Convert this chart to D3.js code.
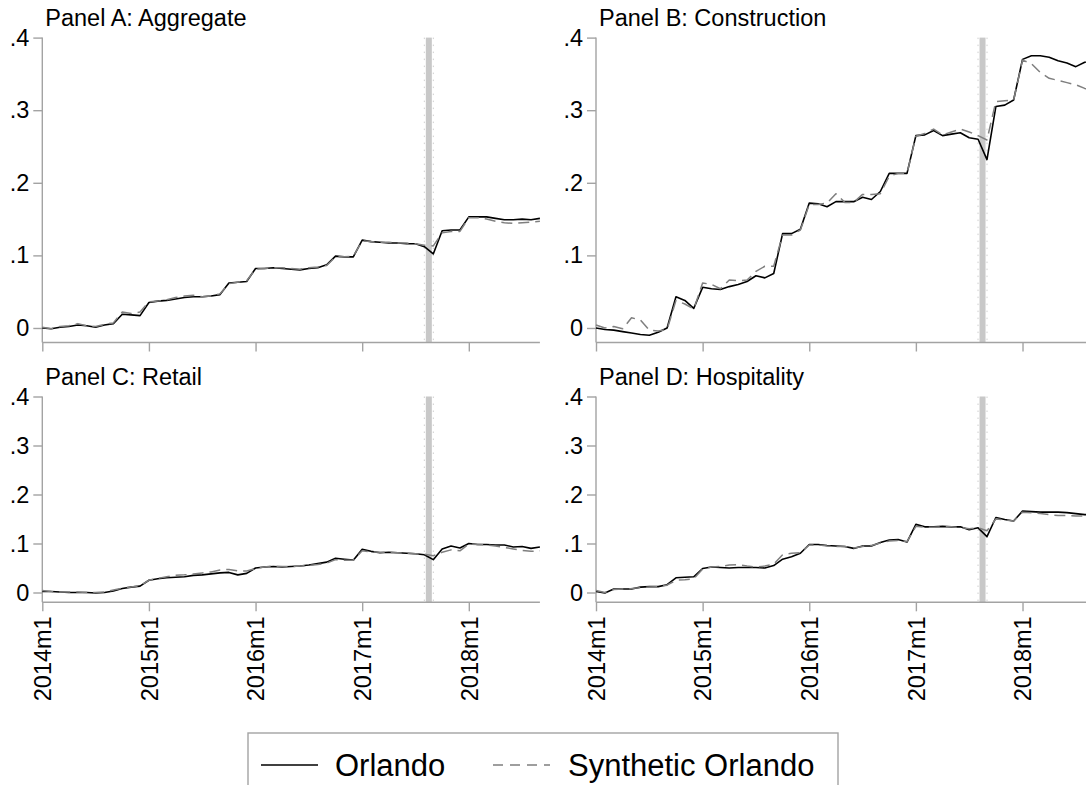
<!DOCTYPE html>
<html>
<head>
<meta charset="utf-8">
<script src="https://cdn.jsdelivr.net/npm/d3@7"></script>
<style>
  html, body { margin: 0; padding: 0; background: #ffffff; }
  svg { display: block; }
  text { font-family: "Liberation Sans", Arial, Helvetica, sans-serif; fill: #000; }
</style>
</head>
<body>
<svg id="chart" width="1086" height="785"></svg>
<script>
// Monthly series, 2014m1 .. 2018m9 (57 months), growth relative to 2014m1
const monthCount = 57;
const tickMonths = [0, 12, 24, 36, 48];
const tickLabels = ["2014m1", "2015m1", "2016m1", "2017m1", "2018m1"];
const yTicks = [0, 0.1, 0.2, 0.3, 0.4];
const yTickLabels = ["0", ".1", ".2", ".3", ".4"];
const eventMonth = 43.5; // Hurricane Irma, between 2017m8 and 2017m9

const panelTitles = ["Panel A: Aggregate", "Panel B: Construction", "Panel C: Retail", "Panel D: Hospitality"];
const seriesNames = ["Orlando", "Synthetic Orlando"];

const orlandoAggregate = [
  0.000, -0.001, 0.001, 0.002, 0.004, 0.003, 0.001, 0.004, 0.006, 0.019,
  0.018, 0.017, 0.035, 0.037, 0.038, 0.040, 0.042, 0.043, 0.043, 0.044,
  0.046, 0.062, 0.063, 0.064, 0.082, 0.082, 0.083, 0.082, 0.081, 0.080,
  0.082, 0.083, 0.087, 0.099, 0.098, 0.098, 0.121, 0.119, 0.118, 0.117,
  0.117, 0.116, 0.116, 0.112, 0.102, 0.134, 0.135, 0.135, 0.153, 0.153,
  0.153, 0.151, 0.149, 0.149, 0.150, 0.149, 0.151];
const synthAggregate = [
  0.001, -0.001, 0.002, 0.003, 0.006, 0.003, 0.002, 0.005, 0.007, 0.022,
  0.020, 0.022, 0.036, 0.037, 0.039, 0.042, 0.044, 0.045, 0.043, 0.044,
  0.047, 0.061, 0.063, 0.065, 0.081, 0.082, 0.083, 0.083, 0.082, 0.081,
  0.083, 0.084, 0.086, 0.098, 0.098, 0.099, 0.120, 0.119, 0.118, 0.118,
  0.117, 0.117, 0.116, 0.114, 0.113, 0.131, 0.133, 0.133, 0.152, 0.152,
  0.150, 0.147, 0.145, 0.144, 0.145, 0.146, 0.147];

const orlandoConstruction = [
  0.000, -0.002, -0.003, -0.005, -0.007, -0.009, -0.010, -0.006, 0.000, 0.043,
  0.038, 0.027, 0.056, 0.054, 0.053, 0.057, 0.060, 0.064, 0.072, 0.069,
  0.075, 0.130, 0.130, 0.136, 0.172, 0.171, 0.167, 0.174, 0.174, 0.174,
  0.180, 0.177, 0.188, 0.213, 0.213, 0.213, 0.265, 0.266, 0.272, 0.265,
  0.267, 0.269, 0.262, 0.260, 0.232, 0.305, 0.307, 0.314, 0.370, 0.375,
  0.375, 0.373, 0.368, 0.365, 0.360, 0.366, 0.369];
const synthConstruction = [
  0.004, 0.000, 0.002, -0.001, 0.014, 0.011, -0.003, -0.004, -0.002, 0.038,
  0.033, 0.026, 0.062, 0.060, 0.054, 0.066, 0.065, 0.066, 0.078, 0.085,
  0.085, 0.128, 0.128, 0.135, 0.170, 0.170, 0.172, 0.185, 0.173, 0.173,
  0.184, 0.184, 0.185, 0.209, 0.213, 0.213, 0.264, 0.268, 0.274, 0.266,
  0.270, 0.274, 0.270, 0.265, 0.259, 0.312, 0.313, 0.314, 0.369, 0.364,
  0.352, 0.344, 0.341, 0.338, 0.335, 0.330, 0.327];

const orlandoRetail = [
  0.002, 0.002, 0.001, 0.000, 0.000, 0.000, -0.001, 0.000, 0.003, 0.008,
  0.011, 0.013, 0.025, 0.028, 0.030, 0.031, 0.032, 0.035, 0.036, 0.038,
  0.040, 0.041, 0.036, 0.039, 0.050, 0.052, 0.053, 0.052, 0.053, 0.054,
  0.056, 0.059, 0.062, 0.070, 0.068, 0.066, 0.088, 0.084, 0.081, 0.082,
  0.081, 0.080, 0.079, 0.077, 0.067, 0.089, 0.095, 0.091, 0.100, 0.098,
  0.098, 0.097, 0.097, 0.093, 0.094, 0.090, 0.093];
const synthRetail = [
  0.004, 0.002, 0.001, 0.001, 0.001, 0.000, 0.000, 0.001, 0.005, 0.009,
  0.011, 0.014, 0.025, 0.029, 0.032, 0.035, 0.036, 0.038, 0.040, 0.042,
  0.046, 0.047, 0.044, 0.044, 0.049, 0.052, 0.054, 0.053, 0.053, 0.054,
  0.055, 0.057, 0.060, 0.067, 0.066, 0.066, 0.085, 0.083, 0.082, 0.082,
  0.081, 0.080, 0.079, 0.078, 0.075, 0.082, 0.087, 0.085, 0.099, 0.098,
  0.097, 0.095, 0.092, 0.089, 0.086, 0.084, 0.085];

const orlandoHospitality = [
  0.002, -0.001, 0.007, 0.007, 0.007, 0.011, 0.012, 0.012, 0.016, 0.030,
  0.031, 0.032, 0.049, 0.052, 0.051, 0.050, 0.051, 0.051, 0.051, 0.050,
  0.055, 0.068, 0.073, 0.080, 0.098, 0.098, 0.096, 0.095, 0.094, 0.090,
  0.095, 0.095, 0.102, 0.107, 0.108, 0.103, 0.139, 0.134, 0.134, 0.135,
  0.134, 0.134, 0.128, 0.132, 0.114, 0.153, 0.149, 0.146, 0.166, 0.165,
  0.164, 0.164, 0.164, 0.163, 0.161, 0.159, 0.158];
const synthHospitality = [
  0.004, 0.000, 0.006, 0.007, 0.008, 0.010, 0.011, 0.012, 0.015, 0.025,
  0.026, 0.028, 0.048, 0.052, 0.053, 0.056, 0.057, 0.054, 0.052, 0.054,
  0.058, 0.077, 0.080, 0.081, 0.097, 0.097, 0.095, 0.094, 0.094, 0.091,
  0.094, 0.096, 0.101, 0.105, 0.106, 0.104, 0.135, 0.133, 0.133, 0.134,
  0.134, 0.133, 0.130, 0.132, 0.126, 0.150, 0.148, 0.146, 0.164, 0.163,
  0.161, 0.159, 0.157, 0.157, 0.156, 0.156, 0.155];

const panels = [
  { title: panelTitles[0], actual: orlandoAggregate,    synth: synthAggregate,    left: 42.3, top: 37.6,  bottom: 342.5, xLabels: false },
  { title: panelTitles[1], actual: orlandoConstruction, synth: synthConstruction, left: 596,  top: 37.6,  bottom: 342.5, xLabels: false },
  { title: panelTitles[2], actual: orlandoRetail,       synth: synthRetail,       left: 42.3, top: 396.5, bottom: 602.3, xLabels: true },
  { title: panelTitles[3], actual: orlandoHospitality,  synth: synthHospitality,  left: 596,  top: 396.5, bottom: 602.3, xLabels: true }
];

const plotWidth = 497.6;
const axisColor = "#a3a3a3";
const labelSize = 23.5;
const legendSize = 31;
const svg = d3.select("#chart");

panels.forEach(p => {
  const x = d3.scaleLinear().domain([0, monthCount - 1]).range([p.left, p.left + plotWidth]);
  const y = d3.scaleLinear().domain([-0.02, 0.4]).range([p.bottom, p.top]);
  const g = svg.append("g");

  // event marker
  const ex = x(eventMonth);
  g.append("rect")
    .attr("x", ex - 3).attr("y", p.top)
    .attr("width", 6).attr("height", p.bottom - p.top)
    .attr("fill", "#c8c8c8");
  [-4.5, 4.5].forEach(off => {
    g.append("line")
      .attr("x1", ex + off).attr("x2", ex + off)
      .attr("y1", p.top).attr("y2", p.bottom)
      .attr("stroke", "#cfcfcf").attr("stroke-width", 1)
      .attr("stroke-dasharray", "1.5,5.5");
  });

  // y axis
  const yAxis = d3.axisLeft(y).tickValues(yTicks)
    .tickFormat((d, i) => yTickLabels[i]).tickSize(9).tickPadding(4);
  const ya = g.append("g").attr("transform", `translate(${p.left},0)`).call(yAxis);
  ya.select(".domain").attr("d", `M0,${p.top}V${p.bottom}`);

  // x axis
  const xAxis = d3.axisBottom(x).tickValues(tickMonths)
    .tickFormat((d, i) => p.xLabels ? tickLabels[i] : "").tickSize(9).tickPadding(6);
  const xa = g.append("g").attr("transform", `translate(0,${p.bottom})`).call(xAxis);
  xa.select(".domain").attr("d", `M${p.left},0H${p.left + plotWidth}`);

  [ya, xa].forEach(a => {
    a.select(".domain").attr("stroke", axisColor).attr("stroke-width", 1.4);
    a.selectAll(".tick line").attr("stroke", axisColor).attr("stroke-width", 1.4);
    a.selectAll("text").attr("font-size", labelSize)
      .attr("font-family", '"Liberation Sans", Arial, Helvetica, sans-serif').attr("fill", "#000");
  });
  xa.selectAll(".tick text")
    .attr("transform", "rotate(-90)")
    .attr("text-anchor", "end")
    .attr("x", -14).attr("y", 0).attr("dy", "0.35em");

  // series
  const line = d3.line().x((d, i) => x(i)).y(d => y(d));
  g.append("path").datum(p.actual)
    .attr("d", line).attr("fill", "none")
    .attr("stroke", "#000").attr("stroke-width", 1.6).attr("stroke-linejoin", "round");
  g.append("path").datum(p.synth)
    .attr("d", line).attr("fill", "none")
    .attr("stroke", "#7f7f7f").attr("stroke-width", 1.5)
    .attr("stroke-dasharray", "11,6").attr("stroke-linejoin", "round");

  // title
  g.append("text")
    .attr("x", p.left + 3).attr("y", p.top - 12)
    .attr("font-size", labelSize).text(p.title);
});

// legend
const lg = svg.append("g");
lg.append("rect")
  .attr("x", 248).attr("y", 733).attr("width", 590).attr("height", 70)
  .attr("fill", "#fff").attr("stroke", axisColor).attr("stroke-width", 1.4);
lg.append("line").attr("x1", 261).attr("x2", 318).attr("y1", 765).attr("y2", 765)
  .attr("stroke", "#000").attr("stroke-width", 1.6);
lg.append("text").attr("x", 335).attr("y", 765).attr("dy", "0.35em")
  .attr("font-size", legendSize).text(seriesNames[0]);
lg.append("line").attr("x1", 493).attr("x2", 550).attr("y1", 765).attr("y2", 765)
  .attr("stroke", "#7f7f7f").attr("stroke-width", 1.5).attr("stroke-dasharray", "10,7");
lg.append("text").attr("x", 568).attr("y", 765).attr("dy", "0.35em")
  .attr("font-size", legendSize).text(seriesNames[1]);
</script>
</body>
</html>
